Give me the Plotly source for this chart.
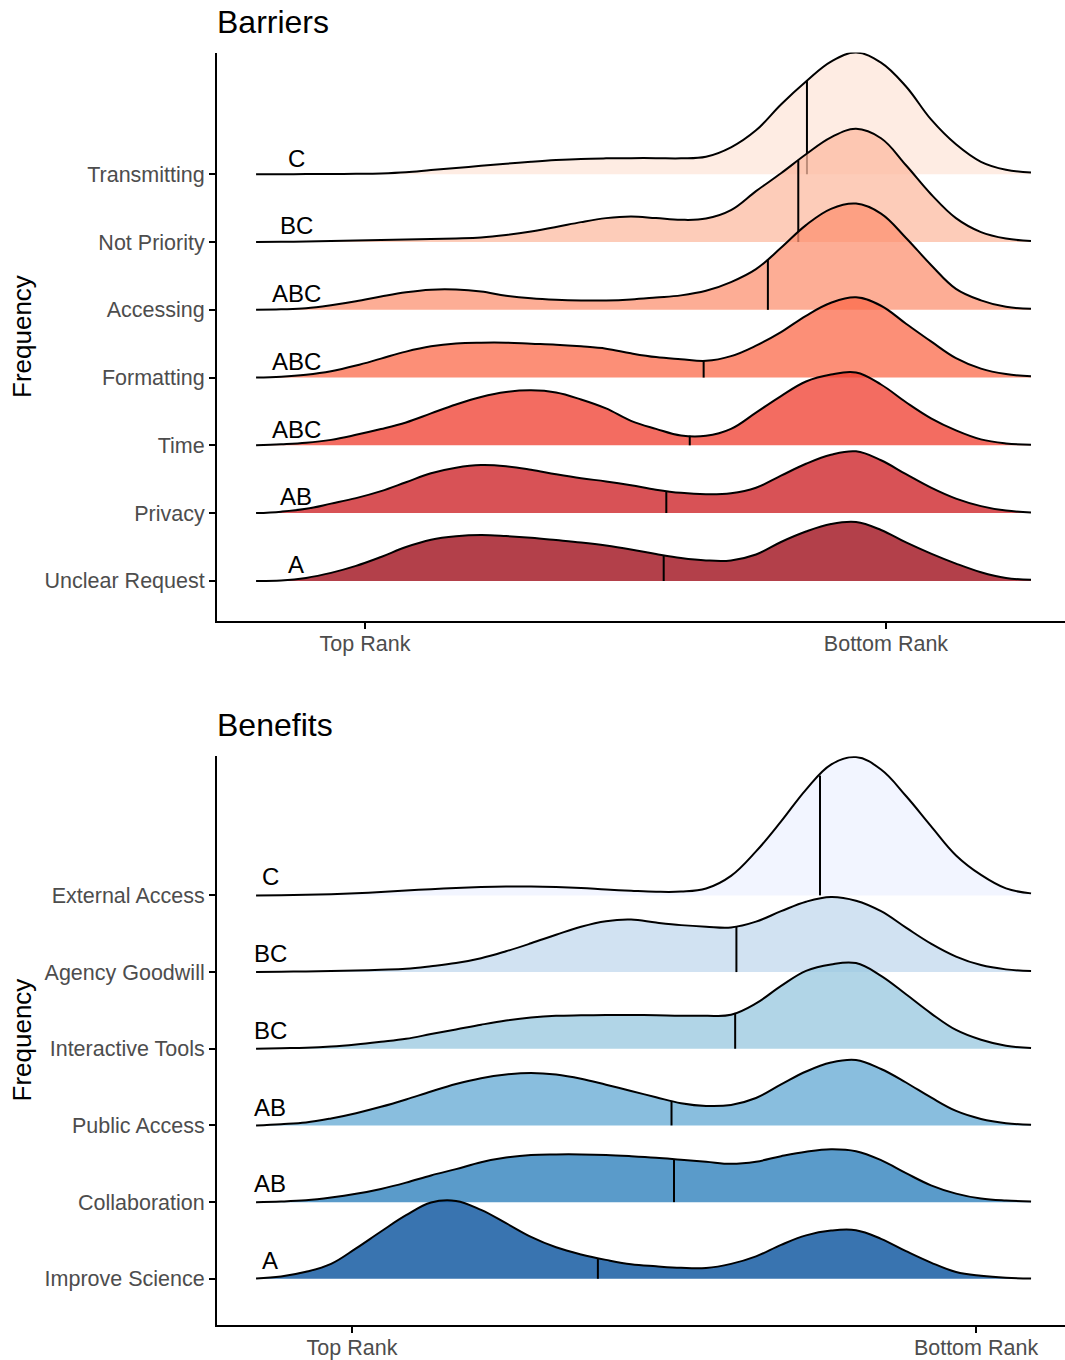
import numpy as np
import plotly.graph_objects as go

# ---------------- Barriers ----------------
barrier_categories = ["Transmitting", "Not Priority", "Accessing", "Formatting",
                      "Time", "Privacy", "Unclear Request"]
barrier_groups = ["C", "BC", "ABC", "ABC", "ABC", "AB", "A"]
barrier_medians = [6.09, 5.99, 5.64, 4.90, 4.74, 4.47, 4.44]
barrier_rank_grid = [-0.255, 0.033, 0.321, 0.608, 0.896, 1.184, 1.472, 1.760,
                     2.048, 2.336, 2.624, 2.912, 3.200, 3.488, 3.776, 4.063,
                     4.351, 4.639, 4.927, 5.215, 5.503, 5.791, 6.079, 6.367,
                     6.655, 6.943, 7.231, 7.519, 7.806, 8.094, 8.382, 8.670]

# ridge heights, in units of the spacing between ridges
dens_transmitting = [0.000, 0.000, 0.003, 0.003, 0.006, 0.012, 0.029, 0.062, 0.093, 0.125, 0.155,
                     0.184, 0.209, 0.227, 0.235, 0.238, 0.238, 0.235, 0.258, 0.397, 0.648, 1.030,
                     1.369, 1.663, 1.795, 1.648, 1.295, 0.809, 0.442, 0.184, 0.066, 0.025]
dens_not_priority = [0.000, 0.003, 0.007, 0.015, 0.022, 0.029, 0.037, 0.044, 0.052, 0.066, 0.103,
                     0.155, 0.221, 0.294, 0.353, 0.377, 0.353, 0.328, 0.346, 0.471, 0.751, 1.015,
                     1.295, 1.545, 1.670, 1.531, 1.133, 0.706, 0.353, 0.147, 0.052, 0.015]
dens_accessing = [0.000, 0.007, 0.022, 0.066, 0.125, 0.196, 0.259, 0.297, 0.299, 0.269, 0.208,
                  0.169, 0.147, 0.137, 0.137, 0.152, 0.181, 0.213, 0.280, 0.409, 0.600, 0.915,
                  1.250, 1.490, 1.567, 1.420, 1.060, 0.662, 0.309, 0.140, 0.044, 0.015]
dens_formatting = [0.000, 0.012, 0.041, 0.093, 0.177, 0.280, 0.383, 0.461, 0.503, 0.515, 0.515,
                   0.500, 0.486, 0.461, 0.427, 0.358, 0.302, 0.272, 0.247, 0.316, 0.471, 0.671,
                   0.912, 1.104, 1.185, 1.060, 0.795, 0.534, 0.287, 0.132, 0.052, 0.019]
dens_time = [0.000, 0.015, 0.037, 0.081, 0.155, 0.240, 0.338, 0.471, 0.603, 0.714, 0.787,
             0.812, 0.780, 0.677, 0.545, 0.361, 0.243, 0.144, 0.140, 0.243, 0.483, 0.727,
             0.942, 1.045, 1.074, 0.898, 0.636, 0.399, 0.221, 0.088, 0.029, 0.007]
dens_privacy = [0.000, 0.022, 0.063, 0.140, 0.221, 0.324, 0.456, 0.589, 0.670, 0.709, 0.692,
                0.640, 0.574, 0.515, 0.468, 0.412, 0.346, 0.299, 0.280, 0.294, 0.375, 0.552,
                0.728, 0.861, 0.912, 0.780, 0.574, 0.375, 0.213, 0.103, 0.037, 0.010]
dens_unclear = [0.000, 0.007, 0.044, 0.118, 0.221, 0.353, 0.500, 0.608, 0.659, 0.677, 0.662,
                0.637, 0.603, 0.567, 0.522, 0.464, 0.397, 0.338, 0.302, 0.302, 0.390, 0.574,
                0.728, 0.839, 0.868, 0.751, 0.567, 0.402, 0.255, 0.128, 0.044, 0.015]
barrier_densities = [dens_transmitting, dens_not_priority, dens_accessing, dens_formatting,
                     dens_time, dens_privacy, dens_unclear]
barrier_colors = ["#FEE5D9", "#FCBBA1", "#FC9272", "#FB6A4A", "#EF3B2C", "#CB181D", "#99000D"]
barrier_rank_ticks = [1, 7]

# ---------------- Benefits ----------------
benefit_categories = ["External Access", "Agency Goodwill", "Interactive Tools",
                      "Public Access", "Collaboration", "Improve Science"]
benefit_groups = ["C", "BC", "BC", "AB", "AB", "A"]
benefit_medians = [4.75, 4.08, 4.07, 3.56, 3.58, 2.97]
benefit_rank_grid = [0.231, 0.431, 0.631, 0.832, 1.032, 1.232, 1.433, 1.633,
                     1.833, 2.034, 2.234, 2.434, 2.635, 2.835, 3.035, 3.236,
                     3.436, 3.636, 3.837, 4.037, 4.237, 4.438, 4.638, 4.838,
                     5.038, 5.239, 5.439, 5.639, 5.840, 6.040, 6.240, 6.441]

dens_external = [0.000, 0.003, 0.007, 0.016, 0.027, 0.043, 0.063, 0.081, 0.096, 0.108, 0.115,
                 0.115, 0.108, 0.095, 0.076, 0.060, 0.047, 0.049, 0.089, 0.254, 0.573, 0.964,
                 1.380, 1.706, 1.803, 1.641, 1.296, 0.904, 0.521, 0.267, 0.091, 0.026]
dens_goodwill = [0.000, 0.004, 0.008, 0.013, 0.020, 0.030, 0.043, 0.076, 0.117, 0.180, 0.271,
                 0.375, 0.486, 0.592, 0.664, 0.684, 0.645, 0.612, 0.592, 0.582, 0.658, 0.794,
                 0.918, 0.980, 0.931, 0.794, 0.579, 0.371, 0.202, 0.091, 0.035, 0.013]
dens_interactive = [0.000, 0.007, 0.013, 0.029, 0.056, 0.091, 0.130, 0.191, 0.251, 0.313, 0.368,
                    0.408, 0.430, 0.436, 0.439, 0.440, 0.436, 0.430, 0.430, 0.443, 0.592, 0.820,
                    1.016, 1.100, 1.117, 0.951, 0.710, 0.462, 0.245, 0.117, 0.039, 0.009]
dens_public = [0.000, 0.016, 0.038, 0.091, 0.160, 0.243, 0.339, 0.443, 0.540, 0.616, 0.664,
               0.685, 0.664, 0.609, 0.531, 0.449, 0.368, 0.290, 0.254, 0.267, 0.358, 0.534,
               0.703, 0.820, 0.853, 0.736, 0.560, 0.365, 0.189, 0.085, 0.030, 0.009]
dens_collaboration = [0.000, 0.007, 0.023, 0.059, 0.108, 0.172, 0.254, 0.348, 0.430, 0.521, 0.581,
                      0.615, 0.622, 0.622, 0.615, 0.599, 0.579, 0.553, 0.527, 0.499, 0.527, 0.599,
                      0.658, 0.690, 0.664, 0.547, 0.378, 0.219, 0.111, 0.046, 0.020, 0.009]
dens_improve = [0.004, 0.030, 0.091, 0.195, 0.397, 0.617, 0.829, 0.996, 1.016, 0.898, 0.725,
                0.547, 0.411, 0.318, 0.247, 0.189, 0.163, 0.143, 0.141, 0.195, 0.293, 0.443,
                0.566, 0.629, 0.633, 0.521, 0.361, 0.212, 0.089, 0.039, 0.013, 0.004]
benefit_densities = [dens_external, dens_goodwill, dens_interactive, dens_public,
                     dens_collaboration, dens_improve]
benefit_colors = ["#EFF3FF", "#C6DBEF", "#9ECAE1", "#6BAED6", "#3182BD", "#08519C"]
benefit_rank_ticks = [1, 6]

rank_tick_text = ["Top Rank", "Bottom Rank"]

# ---------------- styling ----------------
FONT = "Liberation Sans, Arial, Helvetica, sans-serif"
TICK_GREY = "#4D4D4D"


def rgba(hex_color, alpha):
    h = hex_color.lstrip("#")
    r, g, b = int(h[0:2], 16), int(h[2:4], 16), int(h[4:6], 16)
    return f"rgba({r},{g},{b},{alpha})"


fig = go.Figure()


def add_panel(cats, groups, grid, densities, medians, colors, alpha, xa, ya, label_x):
    n = len(cats)
    grid = np.array(grid)
    annotations = []
    for i, cat in enumerate(cats):
        base = n - 1 - i
        dens = np.array(densities[i])
        # invisible baseline, the ridge fills down to it
        fig.add_trace(go.Scatter(x=grid, y=np.full(len(grid), base), mode="lines",
                                 line=dict(width=0, color="rgba(0,0,0,0)"),
                                 hoverinfo="skip", showlegend=False, xaxis=xa, yaxis=ya))
        fig.add_trace(go.Scatter(x=grid, y=base + dens, mode="lines", fill="tonexty",
                                 fillcolor=rgba(colors[i], alpha),
                                 line=dict(color="black", width=2, shape="spline", smoothing=1.1),
                                 name=cat, showlegend=False, xaxis=xa, yaxis=ya))
        m = medians[i]
        fig.add_trace(go.Scatter(x=[m, m], y=[base, base + float(np.interp(m, grid, dens))],
                                 mode="lines", line=dict(color="black", width=2),
                                 hoverinfo="skip", showlegend=False, xaxis=xa, yaxis=ya))
        annotations.append(dict(x=label_x, y=base + 0.24, xref=xa, yref=ya,
                                text=groups[i], showarrow=False,
                                xanchor="center", yanchor="middle",
                                font=dict(family=FONT, size=24, color="black")))
    return annotations


ann = []
ann += add_panel(barrier_categories, barrier_groups, barrier_rank_grid, barrier_densities,
                 barrier_medians, barrier_colors, 0.75, "x", "y", 0.205)
ann += add_panel(benefit_categories, benefit_groups, benefit_rank_grid, benefit_densities,
                 benefit_medians, benefit_colors, 0.8, "x2", "y2", 0.343)

W, H = 1065, 1360
x_dom = [217 / W, 1.0]
top_dom = [1 - 622.3 / H, 1 - 52.7 / H]
bot_dom = [1 - 1326.7 / H, 1 - 757.3 / H]

axis_common = dict(showline=True, linecolor="black", linewidth=2, ticks="outside",
                   ticklen=6, tickwidth=2, tickcolor="black", showgrid=False,
                   zeroline=False, tickfont=dict(family=FONT, size=21.5, color=TICK_GREY))

for title, ypix in [("Barriers", 22), ("Benefits", 726)]:
    ann.append(dict(x=215 / W, y=1 - ypix / H, xref="paper", yref="paper", text=title,
                    showarrow=False, xanchor="left", yanchor="middle",
                    font=dict(family=FONT, size=32, color="black")))
for dom in [top_dom, bot_dom]:
    ann.append(dict(x=22 / W, y=(dom[0] + dom[1]) / 2, xref="paper", yref="paper",
                    text="Frequency", textangle=-90, showarrow=False,
                    xanchor="center", yanchor="middle",
                    font=dict(family=FONT, size=26, color="black")))

fig.update_layout(
    width=W, height=H, margin=dict(l=0, r=0, t=0, b=0),
    paper_bgcolor="white", plot_bgcolor="white", showlegend=False,
    xaxis=dict(domain=x_dom, anchor="y", range=[-0.705, 9.062], ticklabelstandoff=-4,
               tickvals=barrier_rank_ticks, ticktext=rank_tick_text, **axis_common),
    yaxis=dict(domain=top_dom, anchor="x", range=[-0.5975, 7.795],
               tickvals=[len(barrier_categories) - 1 - i for i in range(len(barrier_categories))],
               ticktext=barrier_categories, **axis_common),
    xaxis2=dict(domain=x_dom, anchor="y2", range=[-0.082, 6.713], ticklabelstandoff=-4,
                tickvals=benefit_rank_ticks, ticktext=rank_tick_text, **axis_common),
    yaxis2=dict(domain=bot_dom, anchor="x2", range=[-0.599, 6.815],
                tickvals=[len(benefit_categories) - 1 - i for i in range(len(benefit_categories))],
                ticktext=benefit_categories, **axis_common),
    annotations=ann,
)

fig.write_html("out.html", config={"displayModeBar": False},
               post_script="document.body.style.margin='0';")
